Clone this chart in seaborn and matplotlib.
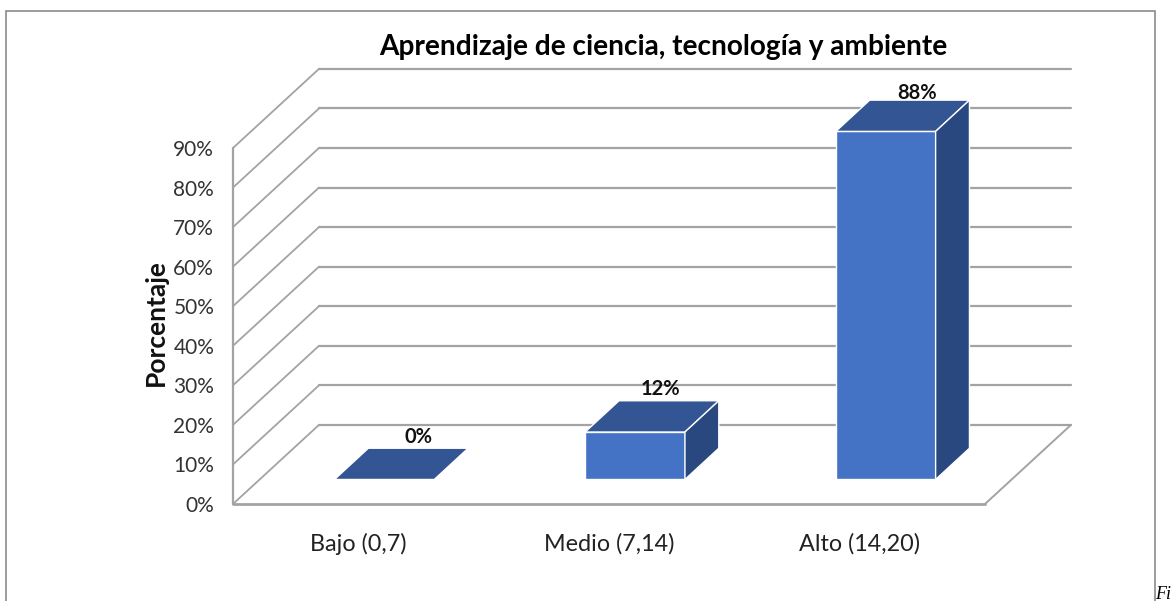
import matplotlib
matplotlib.use('Agg')
import matplotlib.pyplot as plt
from matplotlib.patches import Polygon, Rectangle
from matplotlib.transforms import ScaledTranslation
import pandas as pd
import seaborn as sns

categorias = ['Bajo (0,7)', 'Medio (7,14)', 'Alto (14,20)']
valores = [0, 12, 88]
etiquetas = ['0%', '12%', '88%']
marcas_y = [0, 10, 20, 30, 40, 50, 60, 70, 80, 90]
marcas_y_txt = ['0%', '10%', '20%', '30%', '40%', '50%', '60%', '70%', '80%', '90%']

titulo = 'Aprendizaje de ciencia, tecnología y ambiente'
eje_y = 'Porcentaje'

gris = '#a3a3a3'
frente = '#4472c4'
arriba = '#335593'
lado = '#2a4880'

# "profundidad" del grafico en unidades de datos
pared_x, pared_y = 0.343, 20.0
suelo_x, suelo_y = 0.104, 6.2
caja_x, caja_y = 0.135, 7.9
ancho_barra = 0.398

# ajuste fino de las etiquetas (puntos)
ajuste_x = [0, -6, -1.5]
ajuste_y = [0, 0, -3]

df = pd.DataFrame({'categoria': categorias, 'valor': valores})

sns.set_theme(style='white')
plt.rcParams['font.family'] = ['Lato', 'DejaVu Sans']

fig = plt.figure(figsize=(11.72, 6.01), dpi=100)
ax = fig.add_axes([233 / 1172, 97 / 601, 752 / 1172, 356 / 601])

sns.barplot(data=df, x='categoria', y='valor', color=frente, saturation=1,
            width=ancho_barra, edgecolor='white', linewidth=1, ax=ax, zorder=5)
ax.set_xlim(-0.5, 2.5)
ax.set_ylim(0, 90)

# paredes: lineas de fondo y diagonales
for m in marcas_y:
    ax.plot([-0.5 + pared_x, 2.5 + pared_x], [m + pared_y, m + pared_y],
            color=gris, lw=1.6, clip_on=False, zorder=1)
    ax.plot([-0.5, -0.5 + pared_x], [m, m + pared_y],
            color=gris, lw=1.3, clip_on=False, zorder=1)
ax.plot([-0.5, -0.5], [0, 90], color=gris, lw=1.6, clip_on=False, zorder=1)
ax.plot([-0.5, 2.5], [0, 0], color=gris, lw=2, clip_on=False, zorder=1)
ax.plot([2.5, 2.5 + pared_x], [0, pared_y], color=gris, lw=1.4, clip_on=False, zorder=1)

# mover las barras y agregar tapa y lado
for i, (barra, txt) in enumerate(zip(ax.patches, etiquetas)):
    x0 = barra.get_x() + suelo_x
    alto = barra.get_height()
    barra.set_x(x0)
    barra.set_y(suelo_y)
    barra.set_clip_on(False)
    x1 = x0 + ancho_barra
    y1 = suelo_y + alto
    tapa = [(x0, y1), (x1, y1), (x1 + caja_x, y1 + caja_y), (x0 + caja_x, y1 + caja_y)]
    ax.add_patch(Polygon(tapa, facecolor=arriba, edgecolor='white', lw=1,
                         clip_on=False, zorder=5))
    if alto > 0:
        cara = [(x1, suelo_y), (x1 + caja_x, suelo_y + caja_y),
                (x1 + caja_x, y1 + caja_y), (x1, y1)]
        ax.add_patch(Polygon(cara, facecolor=lado, edgecolor='white', lw=1,
                             clip_on=False, zorder=5))
    ax.annotate(txt, (x0 + ancho_barra / 2 + caja_x, y1 + caja_y),
                xytext=(ajuste_x[i], 1 + ajuste_y[i]),
                textcoords='offset points', ha='center', va='bottom',
                fontsize=14.5, fontweight='bold', color='#111111', zorder=6,
                annotation_clip=False)

ax.set_yticks(marcas_y)
ax.set_yticklabels(marcas_y_txt, fontsize=15, color='#333333')
bajar = ScaledTranslation(0, -2 / 100, fig.dpi_scale_trans)
for t in ax.get_yticklabels():
    t.set_transform(t.get_transform() + bajar)
ax.set_xticks(range(len(categorias)))
ax.set_xticklabels(categorias, fontsize=16.8, color='#222222')
ax.tick_params(axis='y', length=0, pad=13.5)
ax.tick_params(axis='x', length=0, pad=21)
ax.set_xlabel('')
ax.set_ylabel('')
sns.despine(ax=ax, left=True, bottom=True)

fig.text(663 / 1172, 1 - 47 / 601, titulo, ha='center', va='center',
         fontsize=20.2, fontweight='bold', color='black')
fig.text(156 / 1172, 1 - 323 / 601, eje_y, rotation=90, ha='center', va='center',
         fontsize=19, fontweight='bold', color='#111111')

# marco exterior, abierto por abajo
fig.add_artist(Rectangle((6 / 1172, -0.05), 1148.5 / 1172, 1.05 - 11 / 601,
                         transform=fig.transFigure, fill=False,
                         edgecolor='#8a8a8a', lw=1.2))
fig.text(1155 / 1172, 1 - 603 / 601, 'Fi', fontsize=13, style='italic',
         family='Liberation Serif', color='black', ha='left', va='bottom')

fig.savefig('out.png', dpi=100)
